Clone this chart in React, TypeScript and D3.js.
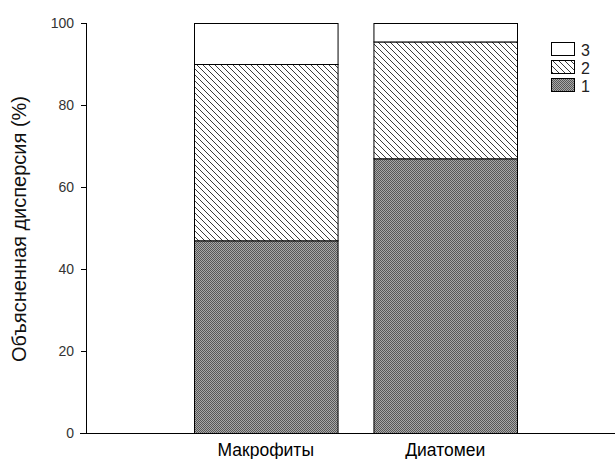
import React from "react";
import * as d3 from "d3";

const categories = ["Макрофиты", "Диатомеи"];
const seriesKeys = ["1", "2", "3"];
const series1 = [47, 67];
const series2 = [43, 28.5];
const series3 = [10, 4.5];
const yTicks = [0, 20, 40, 60, 80, 100];
const yLabel = "Объясненная дисперсия (%)";

const W = 615;
const H = 459;

export default function App() {
  const x = d3.scaleBand<string>().domain(categories).range([194, 517]).paddingInner(0.2).paddingOuter(0);
  const y = d3.scaleLinear().domain([0, 100]).range([433, 23]);
  const rows = categories.map((c, i) => ({ cat: c, "1": series1[i], "2": series2[i], "3": series3[i] }));
  const stacked = d3.stack<any>().keys(seriesKeys)(rows);
  const fills: Record<string, string> = { "1": "url(#checker)", "2": "url(#hatch)", "3": "#ffffff" };
  const legendOrder = ["3", "2", "1"];
  const font = "'Liberation Sans', Arial, sans-serif";
  return (
    <svg width={W} height={H} style={{ position: "absolute", left: 0, top: 0, background: "#fff" }} fontFamily={font}>
      <defs>
        <pattern id="checker" patternUnits="userSpaceOnUse" width={2} height={2}>
          <rect x={0} y={0} width={2} height={2} fill="#a8a8a8" />
          <rect x={0} y={0} width={1} height={1} fill="#575757" />
          <rect x={1} y={1} width={1} height={1} fill="#575757" />
        </pattern>
        <pattern id="hatch" patternUnits="userSpaceOnUse" width={6} height={6}>
          <rect x={0} y={0} width={6} height={6} fill="#fff" />
          <path d="M-1,-1 L7,7 M-1,5 L1,7 M5,-1 L7,1" stroke="#3c3c3c" strokeWidth={1} />
        </pattern>
      </defs>
      <rect x={0} y={0} width={W} height={H} fill="#fff" />
      {stacked.map((s) =>
        s.map((d, i) => (
          <rect
            key={s.key + i}
            x={x(categories[i])! + 0.5}
            y={y(d[1]) + 0.5}
            width={x.bandwidth()}
            height={y(d[0]) - y(d[1])}
            fill={fills[s.key]}
            stroke="#000"
            strokeWidth={1}
          />
        ))
      )}
      <line x1={80} x2={615} y1={y(0) + 0.5} y2={y(0) + 0.5} stroke="#000" />
      <line x1={86.5} x2={86.5} y1={y(100)} y2={y(0) + 0.5} stroke="#000" />
      {yTicks.map((t) => (
        <g key={t}>
          <line x1={81} x2={86} y1={y(t) + 0.5} y2={y(t) + 0.5} stroke="#000" />
          <text x={74} y={y(t) + 5} textAnchor="end" fontSize={14} fill="#333">
            {t}
          </text>
        </g>
      ))}
      {categories.map((c) => (
        <text key={c} x={x(c)! + x.bandwidth() / 2} y={456} textAnchor="middle" fontSize={17.5} fill="#000">
          {c}
        </text>
      ))}
      <text transform={`translate(26,229) rotate(-90)`} textAnchor="middle" fontSize={20} fill="#111">
        {yLabel}
      </text>
      {legendOrder.map((k, i) => (
        <g key={k}>
          <rect x={551.5} y={42.5 + i * 18} width={23} height={13} fill={fills[k]} stroke="#000" />
          <text x={581} y={55.5 + i * 18} fontSize={16} fill="#222">
            {k}
          </text>
        </g>
      ))}
    </svg>
  );
}
